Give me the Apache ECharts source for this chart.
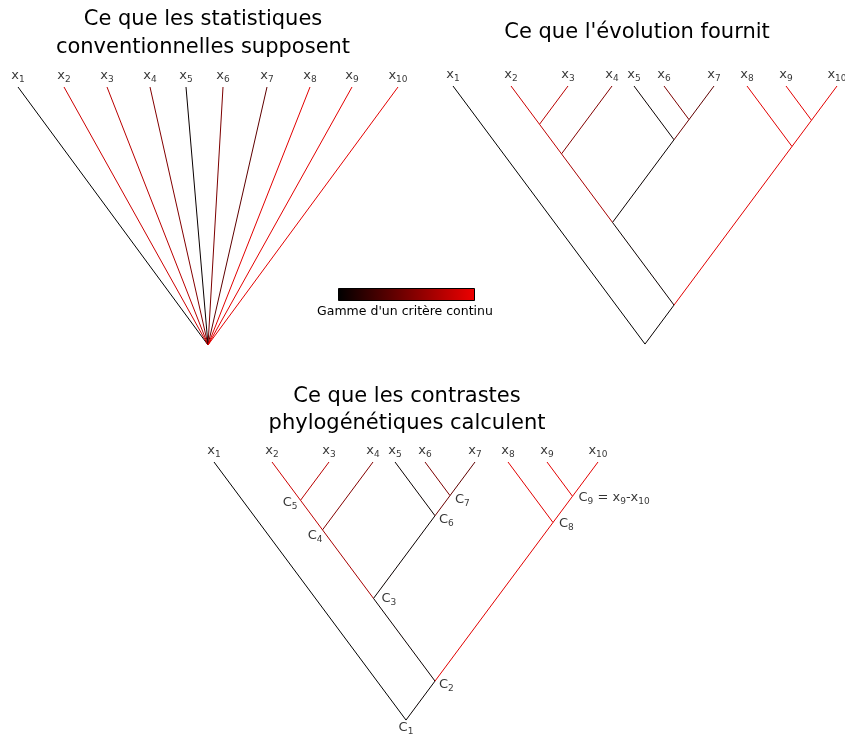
<!DOCTYPE html>
<html><head><meta charset="utf-8">
<script src="https://cdn.jsdelivr.net/npm/echarts@6/dist/echarts.min.js"></script>
<style>html,body{margin:0;padding:0;background:#fff}#c{width:845px;height:737px}</style>
</head><body><div id="c"></div>
<script>
// ---------- data ----------
const tipSubscripts = ['1','2','3','4','5','6','7','8','9','10'];
const tipValues = [0.0, 0.86, 0.78, 0.55, 0.04, 0.52, 0.4, 0.95, 0.96, 0.96];
// star phylogeny: tip positions relative to the root
const starTipPos = [-190, -144, -101, -58, -22, 15, 59, 102, 144, 190];
// real phylogeny: tip positions relative to x1
const treeTipPos = [0, 58, 115, 159, 181, 211, 261, 294, 333, 384];
// internal nodes C1..C9 (children: tN = tip N, cN = node CN)
const nodeSubscripts = ['1','2','3','4','5','6','7','8','9'];
const nodeChildren = [['t1','c2'],['c3','c8'],['c4','c6'],['c5','t4'],['t2','t3'],['t5','c7'],['t6','t7'],['t8','c9'],['t9','t10']];
const nodeValues = [0.0, 0.03, 0.04, 0.7, 0.8, 0.04, 0.45, 0.95, 0.96];
const titles = ['Ce que les statistiques\nconventionnelles supposent', "Ce que l'évolution fournit", 'Ce que les contrastes\nphylogénétiques calculent'];
const colorbarLabel = "Gamme d'un critère continu";

// ---------- layout ----------
const FONT = 'DejaVu Sans';
const SLOPE = 1.344;
const P1 = {rootX: 208, rootY: 345, tipY: 87};
const P2 = {x0: 453, tipY: 86};
const P3 = {x0: 214, tipY: 462};
const col = v => `rgb(${Math.round(v*238)},0,0)`;

function span(id) {
  if (id[0] === 't') { const i = +id.slice(1) - 1; return [treeTipPos[i], treeTipPos[i]]; }
  const ch = nodeChildren[+id.slice(1) - 1];
  return [span(ch[0])[0], span(ch[1])[1]];
}
function pos(id, P) {
  const [a, b] = span(id);
  return [P.x0 + (a + b) / 2, P.tipY + (b - a) / 2 * SLOPE];
}
function val(id) { return id[0] === 't' ? tipValues[+id.slice(1)-1] : nodeValues[+id.slice(1)-1]; }

const edges = [];
// panel 1 star
starTipPos.forEach((p, i) => edges.push({coords: [[P1.rootX, P1.rootY], [P1.rootX + p, P1.tipY]], lineStyle: {color: col(tipValues[i])}}));
// panels 2 and 3
[P2, P3].forEach(P => {
  nodeChildren.forEach((ch, k) => {
    const from = pos('c' + (k + 1), P);
    ch.forEach(c => edges.push({coords: [from, pos(c, P)], lineStyle: {color: col(val(c))}}));
  });
});

const rich = {
  b: {fontSize: 13, fontFamily: FONT, color: '#000'},
  s: {fontSize: 9, fontFamily: FONT, color: '#000', padding: [8, 0, 0, 0]}
};
const tipLabels = [];
starTipPos.forEach((p, i) => tipLabels.push([P1.rootX + p, P1.tipY, i]));
[P2, P3].forEach(P => treeTipPos.forEach((p, i) => tipLabels.push([P.x0 + p, P.tipY, i])));

const nodeLabelPos = ['bottom','right','right','left','left','right','right','right','right'];
const nodeLabelOffset = [[0,-2],[0,4],[4,0],[4,6],[1,2],[0,4],[1,4],[2,1],[2,1]];
const nodeLabels = nodeChildren.map((ch, k) => {
  const q = pos('c' + (k + 1), P3);
  const position = nodeLabelPos[k];
  let text = '{b|C}{s|' + nodeSubscripts[k] + '}';
  if (k === 8) text += '{b| = x}{s|9}{b|-x}{s|10}';
  return {value: [q[0], q[1]], label: {show: true, position, distance: position === 'bottom' ? 1 : 4, offset: nodeLabelOffset[k], formatter: text, rich}};
});

const chart = echarts.init(document.getElementById('c'), null, {renderer: 'canvas'});
chart.setOption({
  animation: false,
  backgroundColor: '#fff',
  grid: {left: 0, top: 0, right: 0, bottom: 0},
  xAxis: {type: 'value', min: 0, max: 845, show: false},
  yAxis: {type: 'value', min: 0, max: 737, inverse: true, show: false},
  series: [
    {type: 'lines', coordinateSystem: 'cartesian2d', polyline: false, silent: true,
     lineStyle: {width: 1, opacity: 1}, data: edges},
    {type: 'scatter', symbolSize: 0, silent: true, data: tipLabels,
     label: {show: true, position: 'top', distance: 3, rich,
       formatter: p => '{b|x}{s|' + tipSubscripts[p.value[2]] + '}'}},
    {type: 'scatter', symbolSize: 0, silent: true, data: nodeLabels}
  ],
  graphic: [
    {type: 'text', x: 203, y: 34, style: {text: titles[0], font: '21px "DejaVu Sans"', fill: '#000', align: 'center', verticalAlign: 'middle', lineHeight: 28}},
    {type: 'text', x: 637, y: 33, style: {text: titles[1], font: '21px "DejaVu Sans"', fill: '#000', align: 'center', verticalAlign: 'middle'}},
    {type: 'text', x: 407, y: 410, style: {text: titles[2], font: '21px "DejaVu Sans"', fill: '#000', align: 'center', verticalAlign: 'middle', lineHeight: 27}},
    {type: 'rect', shape: {x: 338.5, y: 288.5, width: 136, height: 12},
     style: {fill: new echarts.graphic.LinearGradient(0, 0, 1, 0, [{offset: 0, color: '#000'}, {offset: 1, color: col(1)}]), stroke: '#000', lineWidth: 1}},
    {type: 'text', x: 405, y: 312, style: {text: colorbarLabel, font: '12.5px "DejaVu Sans"', fill: '#000', align: 'center', verticalAlign: 'middle'}}
  ]
});
</script></body></html>
